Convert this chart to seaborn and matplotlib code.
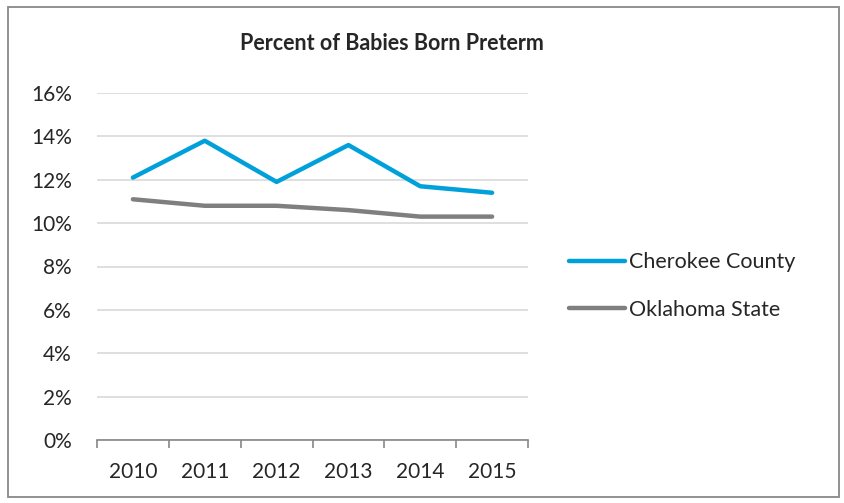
# Percent of babies born preterm, Cherokee County vs Oklahoma State

import matplotlib
matplotlib.use('Agg')
import matplotlib.pyplot as plt
from matplotlib.patches import Rectangle
from matplotlib.ticker import FuncFormatter, FixedLocator
import seaborn as sns
import pandas as pd

years = ['2010', '2011', '2012', '2013', '2014', '2015']
cherokee = [12.1, 13.8, 11.9, 13.6, 11.7, 11.4]
oklahoma = [11.1, 10.8, 10.8, 10.6, 10.3, 10.3]
series_names = ['Cherokee County', 'Oklahoma State']
y_ticks = [0, 2, 4, 6, 8, 10, 12, 14, 16]

sns.set_style('white')
plt.rcParams['font.family'] = ['Lato', 'DejaVu Sans']

df = pd.DataFrame({
    'year': years * 2,
    'value': cherokee + oklahoma,
    'series': [series_names[0]] * len(years) + [series_names[1]] * len(years),
})

fig = plt.figure(figsize=(8.44, 5.03), dpi=100)
W, H = 844, 503
ax = fig.add_axes([97 / W, 1 - 440 / H, (528 - 97) / W, (440 - 93) / H])

sns.lineplot(data=df, x='year', y='value', hue='series', sort=False,
             palette=['#00A1DB', '#7F7F7F'], linewidth=3.2, ax=ax,
             legend=False)

ax.set_xlim(-0.5, 5.5)
ax.set_ylim(0, 16)
ax.set_yticks(y_ticks)
ax.yaxis.set_major_formatter(FuncFormatter(lambda v, p: f'{v:.0f}%'))
ax.grid(axis='y', color='#D9D9D9', linewidth=1.2)
ax.set_axisbelow(True)
for s in ['top', 'right', 'left']:
    ax.spines[s].set_visible(False)
ax.spines['bottom'].set_color('#868686')
ax.spines['bottom'].set_linewidth(1.2)
ax.set_xlabel('')
ax.set_ylabel('')

ax.xaxis.set_minor_locator(FixedLocator([i - 0.5 for i in range(len(years) + 1)]))
ax.tick_params(axis='x', which='minor', length=6, width=1.2, color='#868686',
               direction='out', bottom=True)
ax.tick_params(axis='x', which='major', length=0, pad=16, labelsize=15)
ax.tick_params(axis='y', length=0, pad=18, labelsize=15)

fig.text(392 / W, 1 - 44 / H, 'Percent of Babies Born Preterm', fontsize=15.5,
         fontweight='bold', ha='center', va='center')

handles = ax.get_lines()[:2]
fig.legend(handles, series_names, loc='center left',
           bbox_to_anchor=(550 / W, 1 - 286 / H), frameon=False,
           fontsize=15.5, handlelength=2.6, handletextpad=0.15,
           labelspacing=1.28)

fig.patches.append(Rectangle((8 / W, 1 - 497 / H), (839 - 8) / W, (497 - 7) / H,
                             transform=fig.transFigure, fill=False,
                             edgecolor='#888888', linewidth=1.3))

fig.savefig('out.png', dpi=100)
